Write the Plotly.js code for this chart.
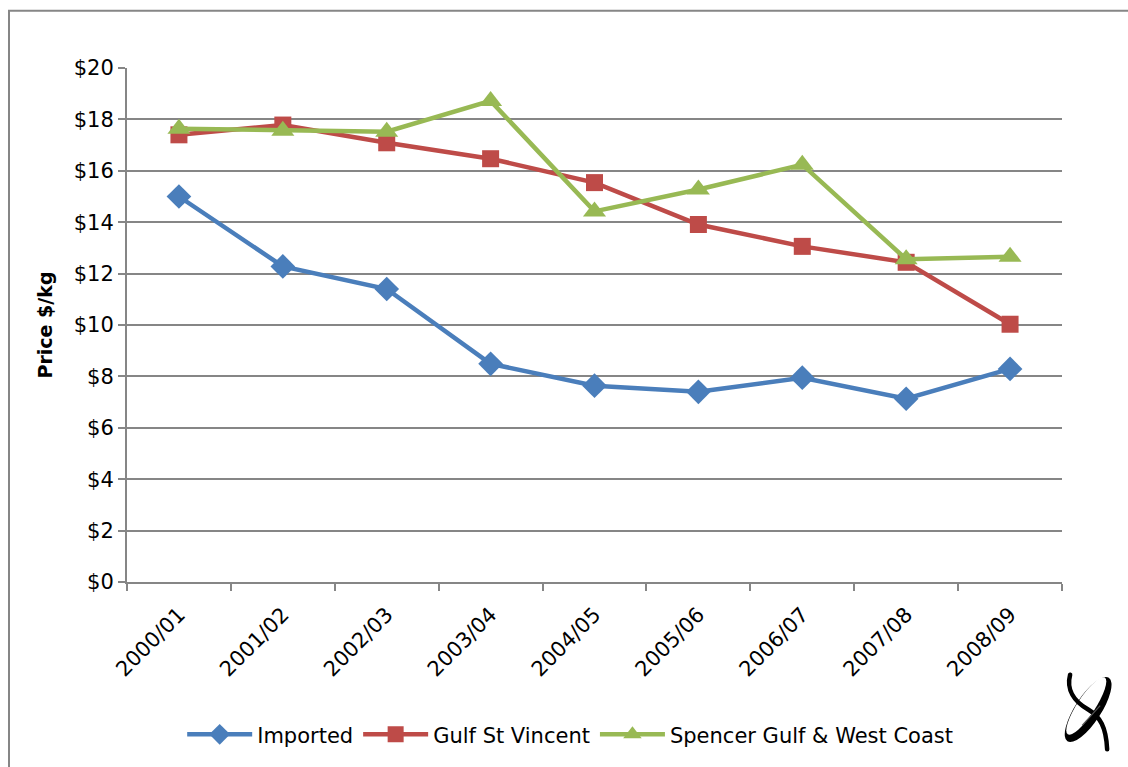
<!DOCTYPE html>
<html>
<head>
<meta charset="utf-8">
<script src="https://cdn.plot.ly/plotly-3.0.1.min.js"></script>
<style>
  html, body { margin: 0; padding: 0; background: #fff; }
  #chart { width: 1128px; height: 767px; }
</style>
</head>
<body>
<div id="chart"></div>
<script>
// Seasons on the x axis
const seasons = ["2000/01", "2001/02", "2002/03", "2003/04", "2004/05",
                 "2005/06", "2006/07", "2007/08", "2008/09"];

// Price $/kg per series
const imported = [15.0, 12.28, 11.4, 8.49, 7.64, 7.4, 7.95, 7.13, 8.29];
const gulfStVincent = [17.4, 17.78, 17.09, 16.47, 15.54, 13.91, 13.06, 12.44, 10.03];
const spencerGulf = [17.64, 17.56, 17.52, 18.72, 14.42, 15.27, 16.24, 12.56, 12.66];

const seriesNames = ["Imported", "Gulf St Vincent", "Spencer Gulf & West Coast"];

const FONT = "DejaVu Sans, sans-serif";
const GREY = "#868686";

function line(y, name, color, symbol, size) {
  return {
    x: seasons,
    y: y,
    name: name,
    type: "scatter",
    mode: "lines+markers",
    line: { color: color, width: 4.5 },
    marker: { symbol: symbol, size: size, color: color },
    hoverinfo: "x+y+name",
  };
}

const data = [
  line(imported, seriesNames[0], "#4A7EBB", "diamond", 19),
  line(gulfStVincent, seriesNames[1], "#BE4B48", "square", 17),
  line(spencerGulf, seriesNames[2], "#98B954", "triangle-up", 20),
];

// little logo in the corner
const logo =
  "<svg xmlns='http://www.w3.org/2000/svg' viewBox='0 0 60 90'>" +
  "<g transform='rotate(-57 28 42)'>" +
  "<ellipse cx='28' cy='42' rx='38' ry='13' fill='black'/>" +
  "<ellipse cx='30' cy='38.5' rx='34' ry='9' fill='white'/>" +
  "</g>" +
  "<path d='M10,7 C6,22 14,34 28,42 C40,49 46,60 47,82' fill='none' stroke='black' stroke-width='4.5' stroke-linecap='round'/>" +
  "<path d='M22,58 L40,38' fill='none' stroke='#555' stroke-width='1.2'/>" +
  "</svg>";

const layout = {
  width: 1128,
  height: 767,
  margin: { l: 127, r: 66, t: 68, b: 183 },
  paper_bgcolor: "#fff",
  plot_bgcolor: "#fff",
  font: { family: FONT, size: 21, color: "#000" },
  showlegend: true,
  legend: {
    orientation: "h",
    x: 0.474,
    xanchor: "center",
    y: -0.297,
    yanchor: "middle",
    font: { family: FONT, size: 21, color: "#000" },
    itemwidth: 65,
    tracegroupgap: 0,
  },
  xaxis: {
    type: "category",
    range: [-0.5, 8.5],
    tickson: "boundaries",
    ticks: "outside",
    ticklen: 7,
    tickcolor: GREY,
    tickwidth: 2,
    tickangle: -45,
    ticklabelstandoff: 10,
    showline: true,
    linecolor: GREY,
    linewidth: 2,
    showgrid: false,
    zeroline: false,
    tickfont: { family: FONT, size: 21 },
    fixedrange: true,
  },
  yaxis: {
    range: [0, 20],
    dtick: 2,
    tickprefix: "$",
    ticks: "outside",
    ticklen: 7,
    tickcolor: GREY,
    tickwidth: 2,
    showline: true,
    linecolor: GREY,
    linewidth: 2,
    showgrid: true,
    gridcolor: GREY,
    gridwidth: 2,
    zeroline: false,
    tickfont: { family: FONT, size: 21 },
    title: {
      text: "<b>Price $/kg</b>",
      font: { family: FONT, size: 19 },
      standoff: 16,
    },
    fixedrange: true,
  },
  shapes: [
    {
      type: "rect",
      xref: "paper",
      yref: "paper",
      x0: -0.1262,
      x1: 1.12,
      y0: -0.365,
      y1: 1.1114,
      line: { color: GREY, width: 2 },
      fillcolor: "rgba(0,0,0,0)",
      layer: "below",
    },
  ],
  images: [
    {
      source: "data:image/svg+xml;charset=utf-8," + encodeURIComponent(logo),
      xref: "paper",
      yref: "paper",
      x: 0.998,
      y: -0.1667,
      sizex: 0.0642,
      sizey: 0.1744,
      xanchor: "left",
      yanchor: "top",
      sizing: "stretch",
      layer: "above",
    },
  ],
};

var config = { responsive: false, displayModeBar: false, staticPlot: true };

Plotly.newPlot("chart", data, layout, config);
</script>
</body>
</html>
